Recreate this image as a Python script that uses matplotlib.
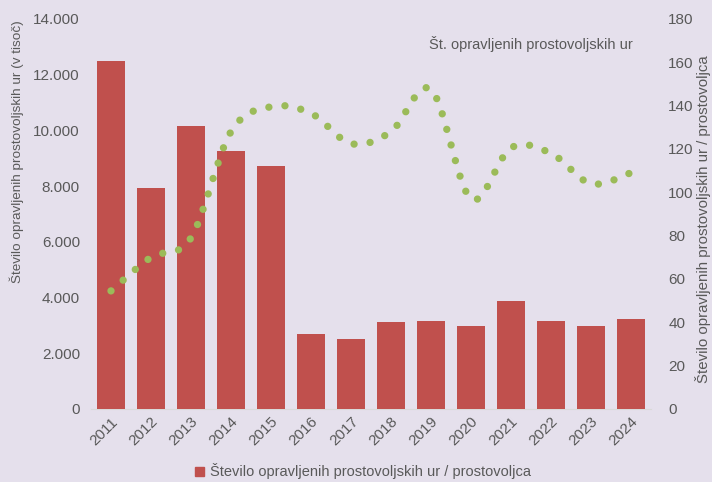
import matplotlib
matplotlib.use('Agg')
import matplotlib.pyplot as plt
from matplotlib.path import Path
from matplotlib.patches import PathPatch
from matplotlib.ticker import FuncFormatter
import numpy as np

# Data
years = [2011, 2012, 2013, 2014, 2015, 2016, 2017,
         2018, 2019, 2020, 2021, 2022, 2023, 2024]
hours_thousands = [12500, 7930, 10160, 9260, 8720, 2680, 2510,
                   3130, 3170, 2990, 3880, 3170, 2990, 3230]
hours_per_volunteer = [54.5, 70, 79, 128, 139.5, 136.5, 122.5,
                       128, 147.5, 97, 120.5, 118, 104, 109]

bar_label = 'Število opravljenih prostovoljskih ur / prostovoljca'
line_label = 'Št. opravljenih prostovoljskih ur'
left_ylabel = 'Število opravljenih prostovoljskih ur (v tisoč)'
right_ylabel = 'Število opravljenih prostovoljskih ur / prostovoljca'

bg = '#E5E0EC'
txt = '#595959'
red = '#C0504D'
green = '#9BBB59'

plt.rcParams['font.family'] = ['Liberation Sans', 'DejaVu Sans']

fig = plt.figure(figsize=(7.12, 4.82), dpi=100, facecolor=bg)
ax = fig.add_axes([0.1278, 0.1515, 0.7865, 0.8091], facecolor=bg)
ax2 = ax.twinx()

x = np.arange(len(years))
ax.bar(x, hours_thousands, width=0.7, color=red, zorder=2)
ax.set_xlim(-0.5, len(years) - 0.5)
ax.set_ylim(0, 14000)
ax.set_yticks(np.arange(0, 14001, 2000))
ax.yaxis.set_major_formatter(FuncFormatter(lambda v, p: f'{int(v):,}'.replace(',', '.')))
ax.set_xticks(x)
ax.set_xticklabels([str(y) for y in years], rotation=45, ha='right',
                   rotation_mode='anchor')

# Smoothed line (Catmull-Rom as cubic Bezier), drawn as round dots
px = x.astype(float)
py = np.array(hours_per_volunteer, dtype=float)
pts = np.column_stack([px, py])
verts = [pts[0]]
codes = [Path.MOVETO]
n = len(pts)
for i in range(n - 1):
    p0 = pts[i - 1] if i > 0 else pts[i]
    p1 = pts[i]
    p2 = pts[i + 1]
    p3 = pts[i + 2] if i + 2 < n else pts[i + 1]
    c1 = p1 + (p2 - p0) / 6.0
    c2 = p2 - (p3 - p1) / 6.0
    verts += [c1, c2, p2]
    codes += [Path.CURVE4] * 3
patch = PathPatch(Path(verts, codes), facecolor='none', edgecolor=green,
                  lw=5.3, linestyle=(0, (0.001, 2.2)), capstyle='round',
                  zorder=3)
ax2.add_patch(patch)
ax2.set_ylim(0, 180)
ax2.set_yticks(np.arange(0, 181, 20))

for a in (ax, ax2):
    for s in a.spines.values():
        s.set_visible(False)
    a.tick_params(length=0, colors=txt, labelsize=11)
ax.spines['bottom'].set_visible(True)
ax.spines['bottom'].set_color('#D9D9D9')
ax.spines['bottom'].set_zorder(1)
ax.tick_params(axis='y', pad=8)
ax.tick_params(axis='x', pad=4)
ax2.tick_params(axis='y', pad=12.5)

ax.set_ylabel(left_ylabel, color=txt, fontsize=9.7)
ax.yaxis.set_label_coords(-0.12, 0.66)
ax2.set_ylabel(right_ylabel, color=txt, fontsize=10.8)
ax2.yaxis.set_label_coords(1.079, 0.486)

ax2.text(0.968, 0.935, line_label, transform=ax.transAxes, ha='right',
         va='center', color=txt, fontsize=10.5)

fig.legend(handles=[plt.Rectangle((0, 0), 1, 1, color=red)], labels=[bar_label],
           loc='center', bbox_to_anchor=(0.51, 0.022), frameon=False,
           fontsize=10.5, labelcolor=txt, handlelength=0.6, handleheight=0.6,
           handletextpad=0.4)

fig.savefig('out.png', dpi=100, facecolor=bg)
